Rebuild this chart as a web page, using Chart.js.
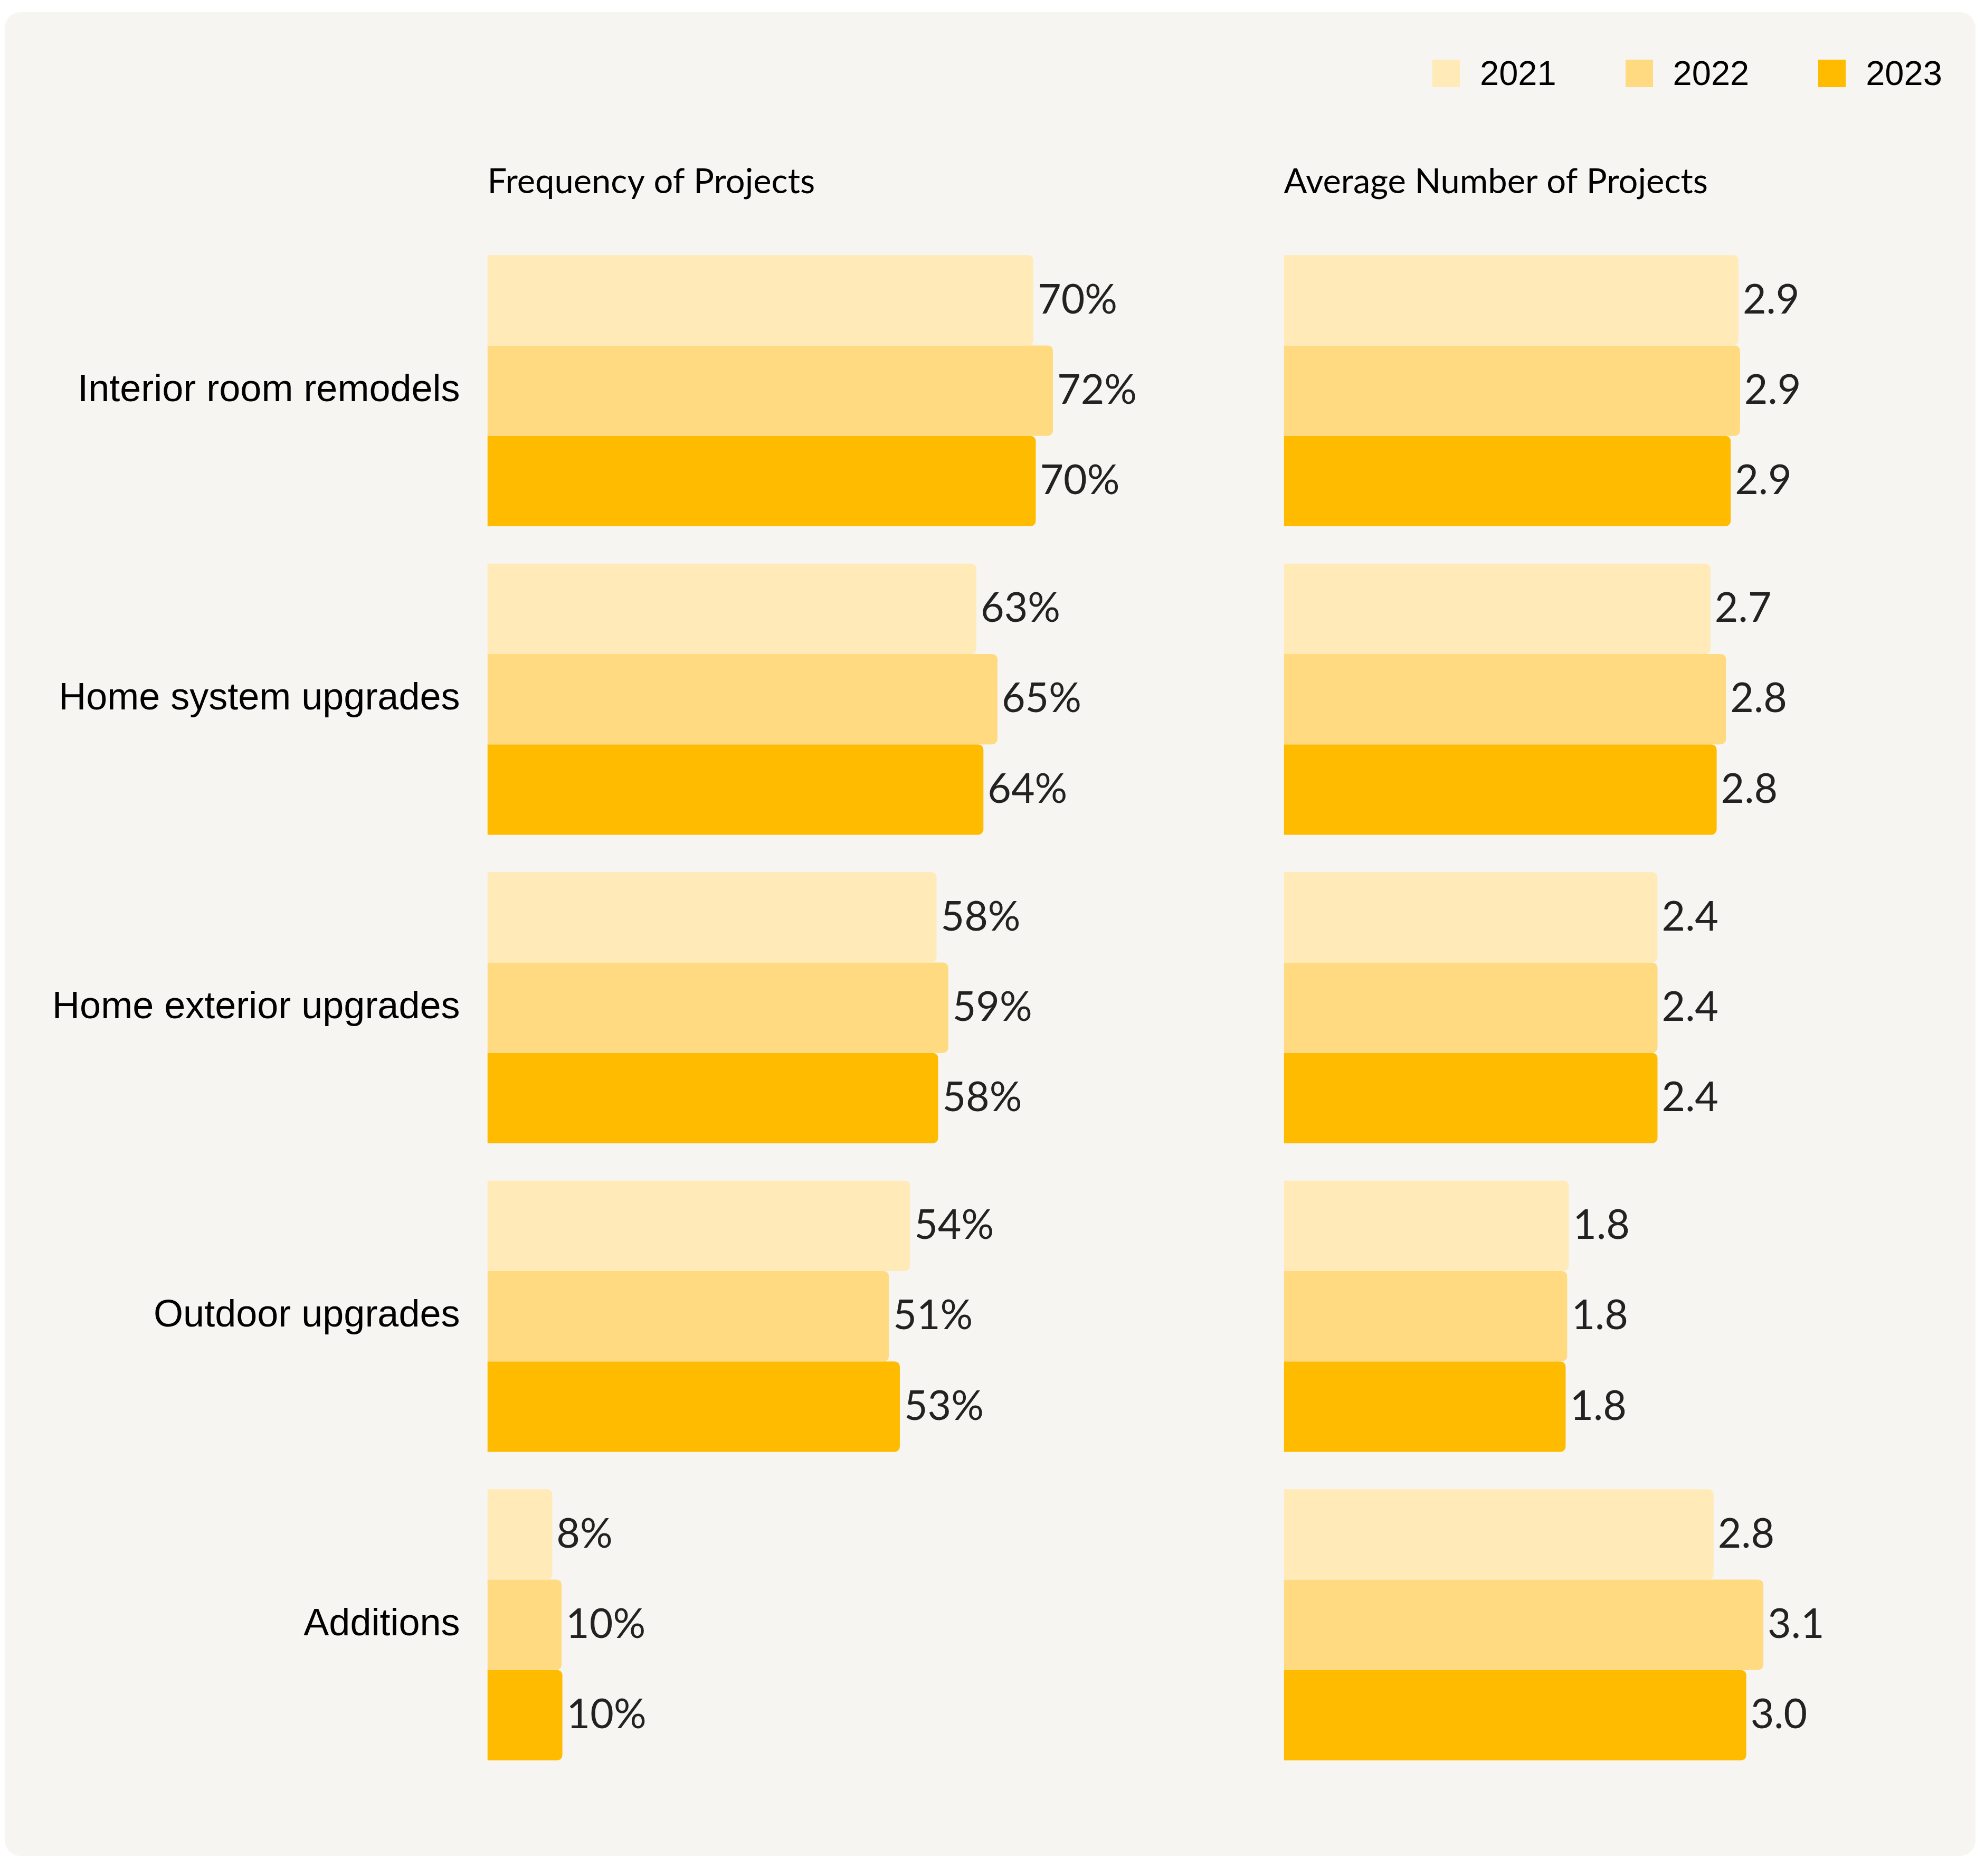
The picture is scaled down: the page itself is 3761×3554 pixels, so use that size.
<!DOCTYPE html>
<html>
<head>
<meta charset="utf-8">
<script src="https://cdn.jsdelivr.net/npm/chart.js@4"></script>
<style>
html, body { margin:0; padding:0; background:#ffffff; width:3761px; height:3554px; overflow:hidden; position:relative; }
#card { position:absolute; left:9px; top:23px; width:3734px; height:3493px; border-radius:30px; background:#F6F5F1; }
#legend { position:absolute; left:2714px; top:106px; display:flex; align-items:center;
  font-family:"Liberation Sans", Arial, sans-serif; font-size:65px; line-height:1; color:#000; }
#legend .item { display:flex; align-items:center; margin-right:131px; }
#legend .sw { width:52px; height:52px; margin-right:38px; }
#c { position:absolute; left:0; top:0; }
</style>
</head>
<body>
<div id="card"></div>
<div id="legend"></div>
<canvas id="c" width="3761" height="3554"></canvas>
<script>
// ---- data ----
const categories = ['Interior room remodels', 'Home system upgrades', 'Home exterior upgrades', 'Outdoor upgrades', 'Additions'];
const years = ['2021', '2022', '2023'];
const yearColors = ['#FFEAB8', '#FFDA80', '#FFBB00'];
const panelTitles = ['Frequency of Projects', 'Average Number of Projects'];

// Frequency of projects (%)
const freq2021 = [69.9, 62.6, 57.5, 54.1, 8.3];
const freq2022 = [72.4, 65.3, 59.0, 51.4, 9.5];
const freq2023 = [70.2, 63.5, 57.7, 52.8, 9.6];

// Average number of projects
const avg2021 = [2.92, 2.74, 2.40, 1.83, 2.76];
const avg2022 = [2.93, 2.84, 2.40, 1.82, 3.08];
const avg2023 = [2.87, 2.78, 2.40, 1.81, 2.97];

const freqSeries = [freq2021, freq2022, freq2023];
const avgSeries = [avg2021, avg2022, avg2023];

// ---- HTML legend ----
const legendEl = document.getElementById('legend');
years.forEach((y, i) => {
  const item = document.createElement('div');
  item.className = 'item';
  if (i === years.length - 1) item.style.marginRight = '0';
  const sw = document.createElement('div');
  sw.className = 'sw';
  sw.style.background = yearColors[i];
  const t = document.createElement('span');
  t.textContent = y;
  item.appendChild(sw);
  item.appendChild(t);
  legendEl.appendChild(item);
});

// ---- datasets ----
const datasets = [];
years.forEach((y, i) => {
  datasets.push({
    label: y, data: freqSeries[i], xAxisID: 'xL', yAxisID: 'y', stack: 's' + y,
    backgroundColor: yearColors[i], borderRadius: 10, borderWidth: 0
  });
});
years.forEach((y, i) => {
  datasets.push({
    label: y, data: avgSeries[i], xAxisID: 'xR', yAxisID: 'y', stack: 's' + y,
    backgroundColor: yearColors[i], borderRadius: 10, borderWidth: 0
  });
});

const valueLabels = {
  id: 'valueLabels',
  afterDatasetsDraw(chart) {
    const ctx = chart.ctx;
    ctx.save();
    ctx.font = '400 77px Lato';
    ctx.fillStyle = '#222222';
    ctx.textAlign = 'left';
    ctx.textBaseline = 'middle';
    chart.data.datasets.forEach((ds, i) => {
      const meta = chart.getDatasetMeta(i);
      meta.data.forEach((el, j) => {
        const v = ds.data[j];
        const txt = ds.xAxisID === 'xL' ? Math.round(v) + '%' : v.toFixed(1);
        ctx.fillText(txt, el.x + 8, el.y);
      });
    });
    ctx.restore();
  }
};

const titleFont = { family: 'Lato', size: 65, lineHeight: 1.2, weight: '400' };
const hiddenAxisCommon = {
  type: 'linear', position: 'top', stack: 'panels', stacked: false, min: 0,
  grid: { display: false, drawTicks: false }, border: { display: false },
  ticks: { display: false }
};

new Chart(document.getElementById('c'), {
  type: 'bar',
  data: { labels: categories, datasets: datasets },
  options: {
    indexAxis: 'y',
    responsive: false,
    animation: false,
    devicePixelRatio: 1,
    categoryPercentage: 0.879,
    barPercentage: 1.0,
    layout: { padding: { top: 0, right: 61, bottom: 183.7, left: 0 } },
    plugins: { legend: { display: false }, tooltip: { enabled: false } },
    scales: {
      y: {
        type: 'category',
        grid: { display: false, drawTicks: false },
        border: { display: false },
        ticks: {
          color: '#000000', autoSkip: false, padding: 52,
          font: { family: '"Liberation Sans", Arial, sans-serif', size: 72 }
        },
        afterFit(s) { s.width = 923.5; }
      },
      xL: Object.assign({}, hiddenAxisCommon, {
        weight: 2, stackWeight: 1509, max: 101.96,
        title: { display: true, text: panelTitles[0], align: 'start', color: '#000000',
                 font: titleFont, padding: { top: 306, bottom: 63.8 } }
      }),
      xR: Object.assign({}, hiddenAxisCommon, {
        weight: 1, stackWeight: 1267.5, max: 4.2966,
        title: { display: true, text: panelTitles[1], align: 'start', color: '#000000',
                 font: titleFont, padding: { top: 306, bottom: 63.8 } }
      })
    }
  },
  plugins: [valueLabels]
});
</script>
</body>
</html>
